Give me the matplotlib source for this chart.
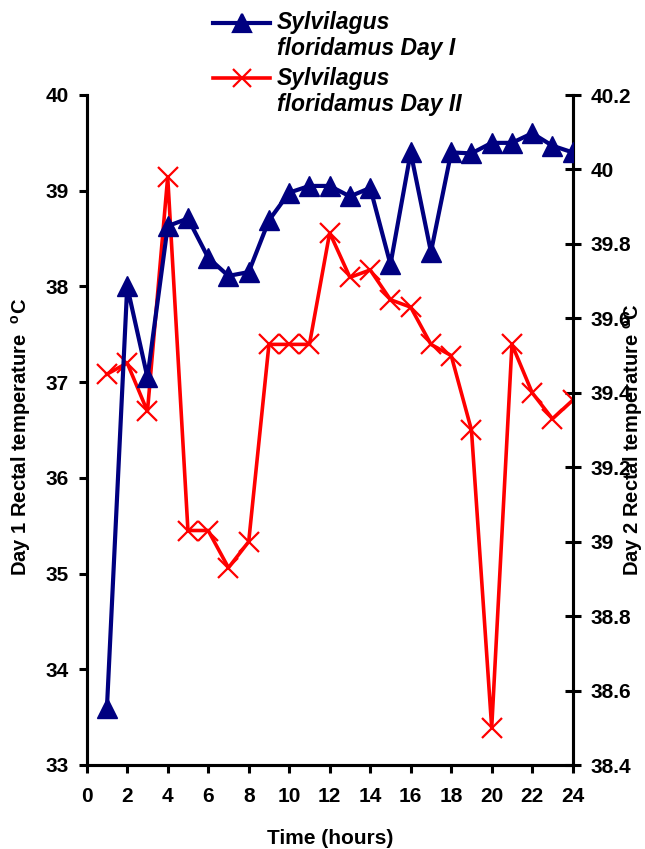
import matplotlib
matplotlib.use("Agg")
import matplotlib.pyplot as plt
from matplotlib.lines import Line2D

plt.rcParams['font.family'] = ['Liberation Sans', 'DejaVu Sans']
plt.rcParams['mathtext.fontset'] = 'custom'
plt.rcParams['mathtext.bf'] = 'Liberation Sans:bold'
plt.rcParams['mathtext.rm'] = 'Liberation Sans:bold'

hours = list(range(1, 25))
day1 = [33.6, 38.0, 37.05, 38.63, 38.71, 38.30, 38.11, 38.15, 38.69, 38.98,
        39.05, 39.05, 38.94, 39.03, 38.23, 39.40, 38.36, 39.40, 39.39, 39.50,
        39.50, 39.60, 39.47, 39.40]
day2 = [39.45, 39.48, 39.35, 39.98, 39.03, 39.03, 38.93, 39.00, 39.53, 39.53,
        39.53, 39.83, 39.71, 39.73, 39.65, 39.63, 39.53, 39.50, 39.30, 38.50,
        39.53, 39.40, 39.33, 39.38]
x_ticks = list(range(0, 25, 2))
y1_ticks = [33, 34, 35, 36, 37, 38, 39, 40]
y2_ticks = [38.4, 38.6, 38.8, 39.0, 39.2, 39.4, 39.6, 39.8, 40.0, 40.2]
y2_labels = ['38.4', '38.6', '38.8', '39', '39.2', '39.4', '39.6', '39.8', '40', '40.2']
label1 = ["Sylvilagus", "floridamus Day I"]
label2 = ["Sylvilagus", "floridamus Day II"]

blue = '#000080'
red = '#FF0000'

W, H = 645, 849
fig = plt.figure(figsize=(W / 100, H / 100), dpi=100)
L, R, T, B = 86.7, 572.7, 95, 765
ax = fig.add_axes([L / W, 1 - B / H, (R - L) / W, (B - T) / H])
ax2 = ax.twinx()

ax.plot(hours, day1, color=blue, lw=3.0, marker='^', ms=15, mfc=blue, mec=blue, zorder=3)
ax2.plot(hours, day2, color=red, lw=2.6, marker='x', ms=14, mew=1.6, mec=red, zorder=2)
ax.set_zorder(ax2.get_zorder() + 1)
ax.patch.set_visible(False)

ax.set_xlim(0, 24)
ax.set_ylim(33, 40)
ax2.set_ylim(38.4, 40.2)
ax.set_xticks(x_ticks)
ax.set_yticks(y1_ticks)
ax2.set_yticks(y2_ticks)
ax2.set_yticklabels(y2_labels)

for a in (ax, ax2):
    for s in a.spines.values():
        s.set_linewidth(2.2)
    a.spines['top'].set_visible(False)

ax.tick_params(axis='x', direction='out', length=6, width=2.2, labelsize=15, pad=10)
ax.tick_params(axis='y', direction='out', length=6, width=2.2, labelsize=15, pad=7)
ax2.tick_params(axis='y', direction='inout', length=12, width=2.2, labelsize=15, pad=7)
for lab in ax.get_xticklabels() + ax.get_yticklabels() + ax2.get_yticklabels():
    lab.set_fontweight('bold')

ax.set_xlabel('Time (hours)', fontsize=15, fontweight='bold')
ax.xaxis.set_label_coords(0.5, -0.095)
ax.set_ylabel(r'Day 1 Rectal temperature  $^{\mathbf{o}}$C', fontsize=14.5, fontweight='bold')
ax.yaxis.set_label_coords(-0.11, 0.49)
ax2.set_ylabel(r'Day 2 Rectal temperature $^{\mathbf{o}}$C', fontsize=14.5, fontweight='bold',
               rotation=90)
ax2.yaxis.set_label_coords(1.1, 0.485)

# legend drawn manually at top
def fx(px):
    return px / W

def fy(py):
    return 1 - py / H

entries = [(label1, blue, '^', 23), (label2, red, 'x', 78)]
for lines, col, mk, yy in entries:
    fig.add_artist(Line2D([fx(213), fx(270)], [fy(yy), fy(yy)], color=col,
                          lw=3.0 if mk == '^' else 2.6, transform=fig.transFigure))
    fig.add_artist(Line2D([fx(241.5)], [fy(yy)], color=col, marker=mk, ms=13,
                          mew=1.6, mfc=col, mec=col, transform=fig.transFigure))
    for i, txt in enumerate(lines):
        fig.text(fx(277), fy(yy + 26 * i), txt, fontsize=16.5, fontweight='bold',
                 fontstyle='italic', va='center', ha='left', transform=fig.transFigure)

fig.savefig('out.png', dpi=100)
